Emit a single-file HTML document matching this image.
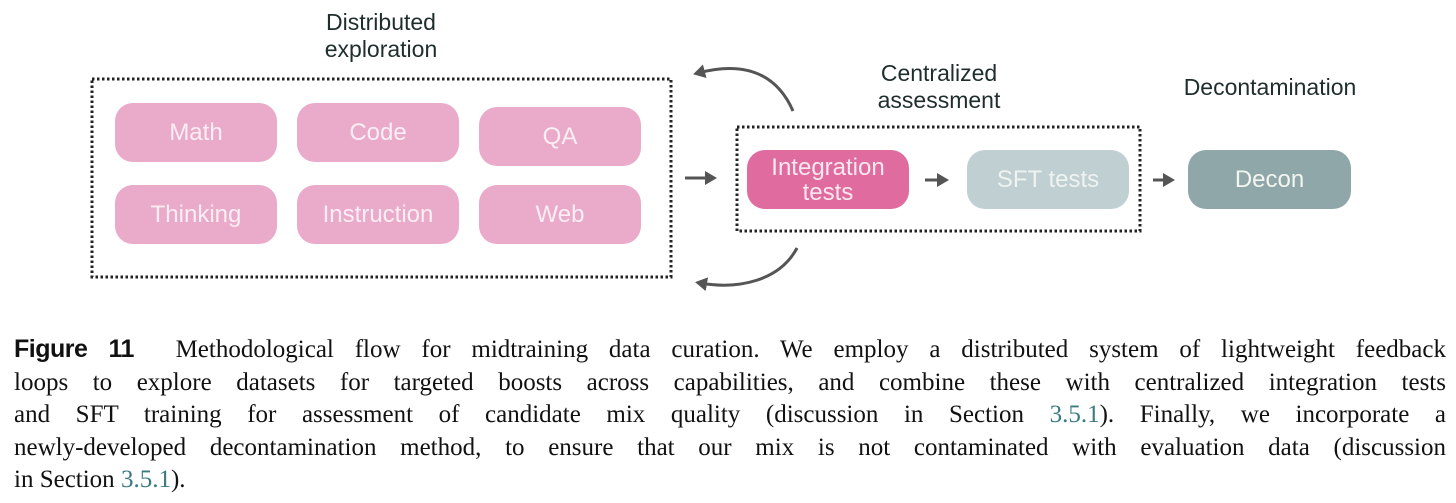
<!DOCTYPE html>
<html><head><style>
body{margin:0;width:1456px;height:503px;background:#fff;position:relative;overflow:hidden;font-family:"Liberation Sans",sans-serif}
.p{position:absolute;border-radius:18px;color:#fff;font-size:24px;display:flex;align-items:center;justify-content:center;text-align:center;line-height:25px}
.pk{background:#eaaac9;color:#fbeef4}
.lb{position:absolute;color:#1f2d2d;font-size:23px;text-align:center;line-height:27px}
.cap{position:absolute;left:14px;width:1432px;top:333px;font-family:"Liberation Serif",serif;font-size:25px;line-height:32.5px;color:#111}
.cap div{text-align:justify;text-align-last:justify;white-space:nowrap}
.cap div.last{text-align-last:left}
.cap b{font-family:"Liberation Sans",sans-serif;font-size:25px;letter-spacing:-0.5px}
.l{color:#3a7a80}
</style></head><body>
<svg width="1456" height="320" style="position:absolute;left:0;top:0">
<defs>
<marker id="b" markerWidth="14" markerHeight="14" refX="7" refY="7" orient="auto" markerUnits="userSpaceOnUse"><path d="M0,0 L12,7 L0,14 z" fill="#555"/></marker></defs>
<rect x="92" y="79" width="579" height="198" fill="none" stroke="#222" stroke-width="3" stroke-dasharray="2.5,2.5"/>
<rect x="737" y="127" width="403" height="104" fill="none" stroke="#222" stroke-width="3" stroke-dasharray="2.5,2.5"/>
<g stroke="#555" stroke-width="3" fill="none">
<line x1="685" y1="178" x2="712" y2="178" marker-end="url(#b)"/>
<line x1="925" y1="180" x2="944" y2="180" marker-end="url(#b)"/>
<line x1="1153" y1="180" x2="1170" y2="180" marker-end="url(#b)"/>
<path d="M793,111 C775,70 740,62 698,73" marker-end="url(#b)"/>
<path d="M797,248 C780,280 740,290 700,283" marker-end="url(#b)"/>
</g></svg>
<div class="lb" style="left:281px;top:9px;width:200px">Distributed<br>exploration</div>
<div class="lb" style="left:839px;top:60px;width:200px">Centralized<br>assessment</div>
<div class="lb" style="left:1150px;top:74px;width:240px">Decontamination</div>
<div class="p pk" style="left:115px;top:103px;width:162px;height:59px">Math</div>
<div class="p pk" style="left:297px;top:103px;width:162px;height:59px">Code</div>
<div class="p pk" style="left:479px;top:107px;width:162px;height:59px">QA</div>
<div class="p pk" style="left:115px;top:185px;width:162px;height:59px">Thinking</div>
<div class="p pk" style="left:297px;top:185px;width:162px;height:59px">Instruction</div>
<div class="p pk" style="left:479px;top:185px;width:162px;height:59px">Web</div>
<div class="p" style="left:747px;top:150px;width:162px;height:59px;background:#e06c9f;color:#fce8f0">Integration<br>tests</div>
<div class="p" style="left:967px;top:150px;width:162px;height:59px;background:#bfcfd2;color:#eef3f1">SFT tests</div>
<div class="p" style="left:1188px;top:150px;width:163px;height:59px;background:#8fa7a8;color:#f3f5f0">Decon</div>
<div class="cap">
<div><b>Figure 11</b>&nbsp; Methodological flow for midtraining data curation. We employ a distributed system of lightweight feedback</div>
<div>loops to explore datasets for targeted boosts across capabilities, and combine these with centralized integration tests</div>
<div>and SFT training for assessment of candidate mix quality (discussion in Section <span class="l">3.5.1</span>). Finally, we incorporate a</div>
<div>newly-developed decontamination method, to ensure that our mix is not contaminated with evaluation data (discussion</div>
<div class="last">in Section <span class="l">3.5.1</span>).</div>
</div>
</body></html>
